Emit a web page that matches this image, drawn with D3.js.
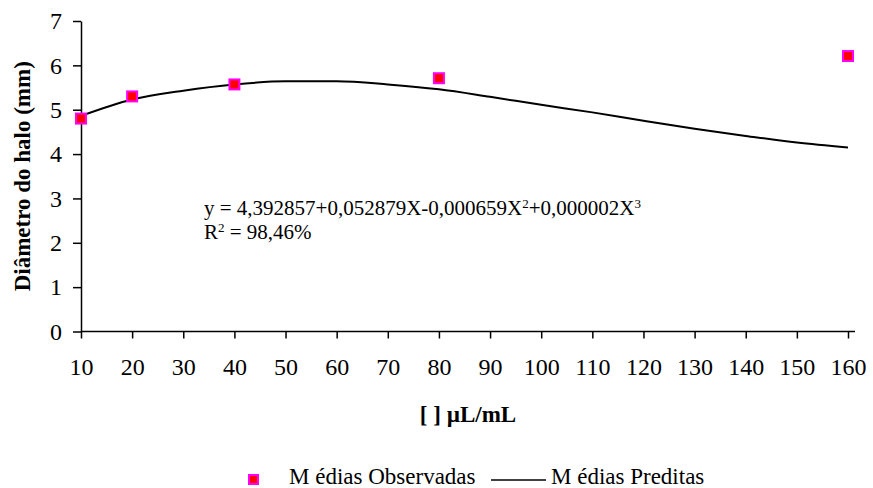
<!DOCTYPE html>
<html>
<head>
<meta charset="utf-8">
<script src="https://cdn.jsdelivr.net/npm/d3@7"></script>
<style>
  body { margin: 0; background: #fff; }
  svg { display: block; font-family: "Liberation Serif", "Times New Roman", serif; }
  svg text { font-family: "Liberation Serif", "Times New Roman", serif; }
</style>
</head>
<body>
<svg id="chart" width="873" height="488"></svg>
<script>
// observed means
const obsX = [10, 20, 40, 80, 160];
const obsY = [4.8, 5.3, 5.57, 5.71, 6.21];

// predicted means
const predX = [10, 20, 30, 40, 50, 60, 70, 80, 90, 100, 110, 120, 130, 140, 150, 160];
const predY = [4.86, 5.23, 5.43, 5.57, 5.64, 5.64, 5.57, 5.46, 5.29, 5.11, 4.94, 4.75, 4.57, 4.41, 4.26, 4.15];

const xTicks = [10, 20, 30, 40, 50, 60, 70, 80, 90, 100, 110, 120, 130, 140, 150, 160];
const yTicks = [0, 1, 2, 3, 4, 5, 6, 7];

const svg = d3.select('#chart');

const x = d3.scaleLinear().domain([10, 160]).range([81, 848]);
const y = d3.scaleLinear().domain([0, 7]).range([331.5, 21]);

// x axis
const xAxis = svg
  .append('g')
  .attr('transform', 'translate(0,' + y(0) + ')')
  .call(d3.axisBottom(x).tickValues(xTicks).tickFormat(d3.format('d')).tickSize(7).tickSizeOuter(0).tickPadding(19));
xAxis.select('.domain').attr('d', 'M' + x(10) + ',0H855');

// y axis
const yAxis = svg
  .append('g')
  .attr('transform', 'translate(' + x(10) + ',0)')
  .call(d3.axisLeft(y).tickValues(yTicks).tickFormat(d3.format('d')).tickSize(8).tickSizeOuter(0).tickPadding(11));

svg.selectAll('g').attr('font-family', null).attr('font-size', null);
svg.selectAll('.domain, .tick line').attr('stroke', '#000').attr('stroke-width', 1.5);
svg.selectAll('.tick text')
  .attr('fill', '#000')
  .style('font-size', '24px');

// predicted line
const line = d3
  .line()
  .x(d => x(d[0]))
  .y(d => y(d[1]))
  .curve(d3.curveMonotoneX);

svg
  .append('path')
  .datum(d3.zip(predX, predY))
  .attr('d', line)
  .attr('fill', 'none')
  .attr('stroke', '#000')
  .attr('stroke-width', 2);

// observed markers
const s = 10;
svg
  .selectAll('.obs')
  .data(d3.zip(obsX, obsY))
  .enter()
  .append('rect')
  .attr('class', 'obs')
  .attr('x', d => x(d[0]) - s / 2)
  .attr('y', d => y(d[1]) - s / 2)
  .attr('width', s)
  .attr('height', s)
  .attr('fill', '#ff0000')
  .attr('stroke', '#ff00ff')
  .attr('stroke-width', 2);

// equation
const eq = svg.append('text').attr('x', 204).attr('y', 215).style('font-size', '21px');
eq.append('tspan').text('y = 4,392857+0,052879X-0,000659X');
eq.append('tspan').text('2').attr('dy', -7).style('font-size', '13px');
eq.append('tspan').text('+0,000002X').attr('dy', 7);
eq.append('tspan').text('3').attr('dy', -7).style('font-size', '13px');

const r2 = svg.append('text').attr('x', 204).attr('y', 239).style('font-size', '21px');
r2.append('tspan').text('R');
r2.append('tspan').text('2').attr('dy', -7).style('font-size', '13px');
r2.append('tspan').text(' = 98,46%').attr('dy', 7);

// axis titles
svg
  .append('text')
  .attr('transform', 'translate(30,' + (y(0) + y(7)) / 2 + ') rotate(-90)')
  .attr('text-anchor', 'middle')
  .style('font-weight', 'bold')
  .style('font-size', '23px')
  .text('Diâmetro do halo (mm)');

svg
  .append('text')
  .attr('x', 468)
  .attr('y', 422)
  .attr('text-anchor', 'middle')
  .style('font-weight', 'bold')
  .style('font-size', '23px')
  .text('[  ] µL/mL');

// legend
const legend = svg.append('g').style('font-size', '23px');
legend
  .append('rect')
  .attr('x', 249)
  .attr('y', 475)
  .attr('width', 9)
  .attr('height', 9)
  .attr('fill', '#ff0000')
  .attr('stroke', '#ff00ff')
  .attr('stroke-width', 2);
legend.append('text').attr('x', 289).attr('y', 484).text('M édias Observadas');
legend
  .append('line')
  .attr('x1', 491)
  .attr('x2', 546)
  .attr('y1', 480)
  .attr('y2', 480)
  .attr('stroke', '#000')
  .attr('stroke-width', 1.5);
legend.append('text').attr('x', 551).attr('y', 484).text('M édias Preditas');
</script>
</body>
</html>
